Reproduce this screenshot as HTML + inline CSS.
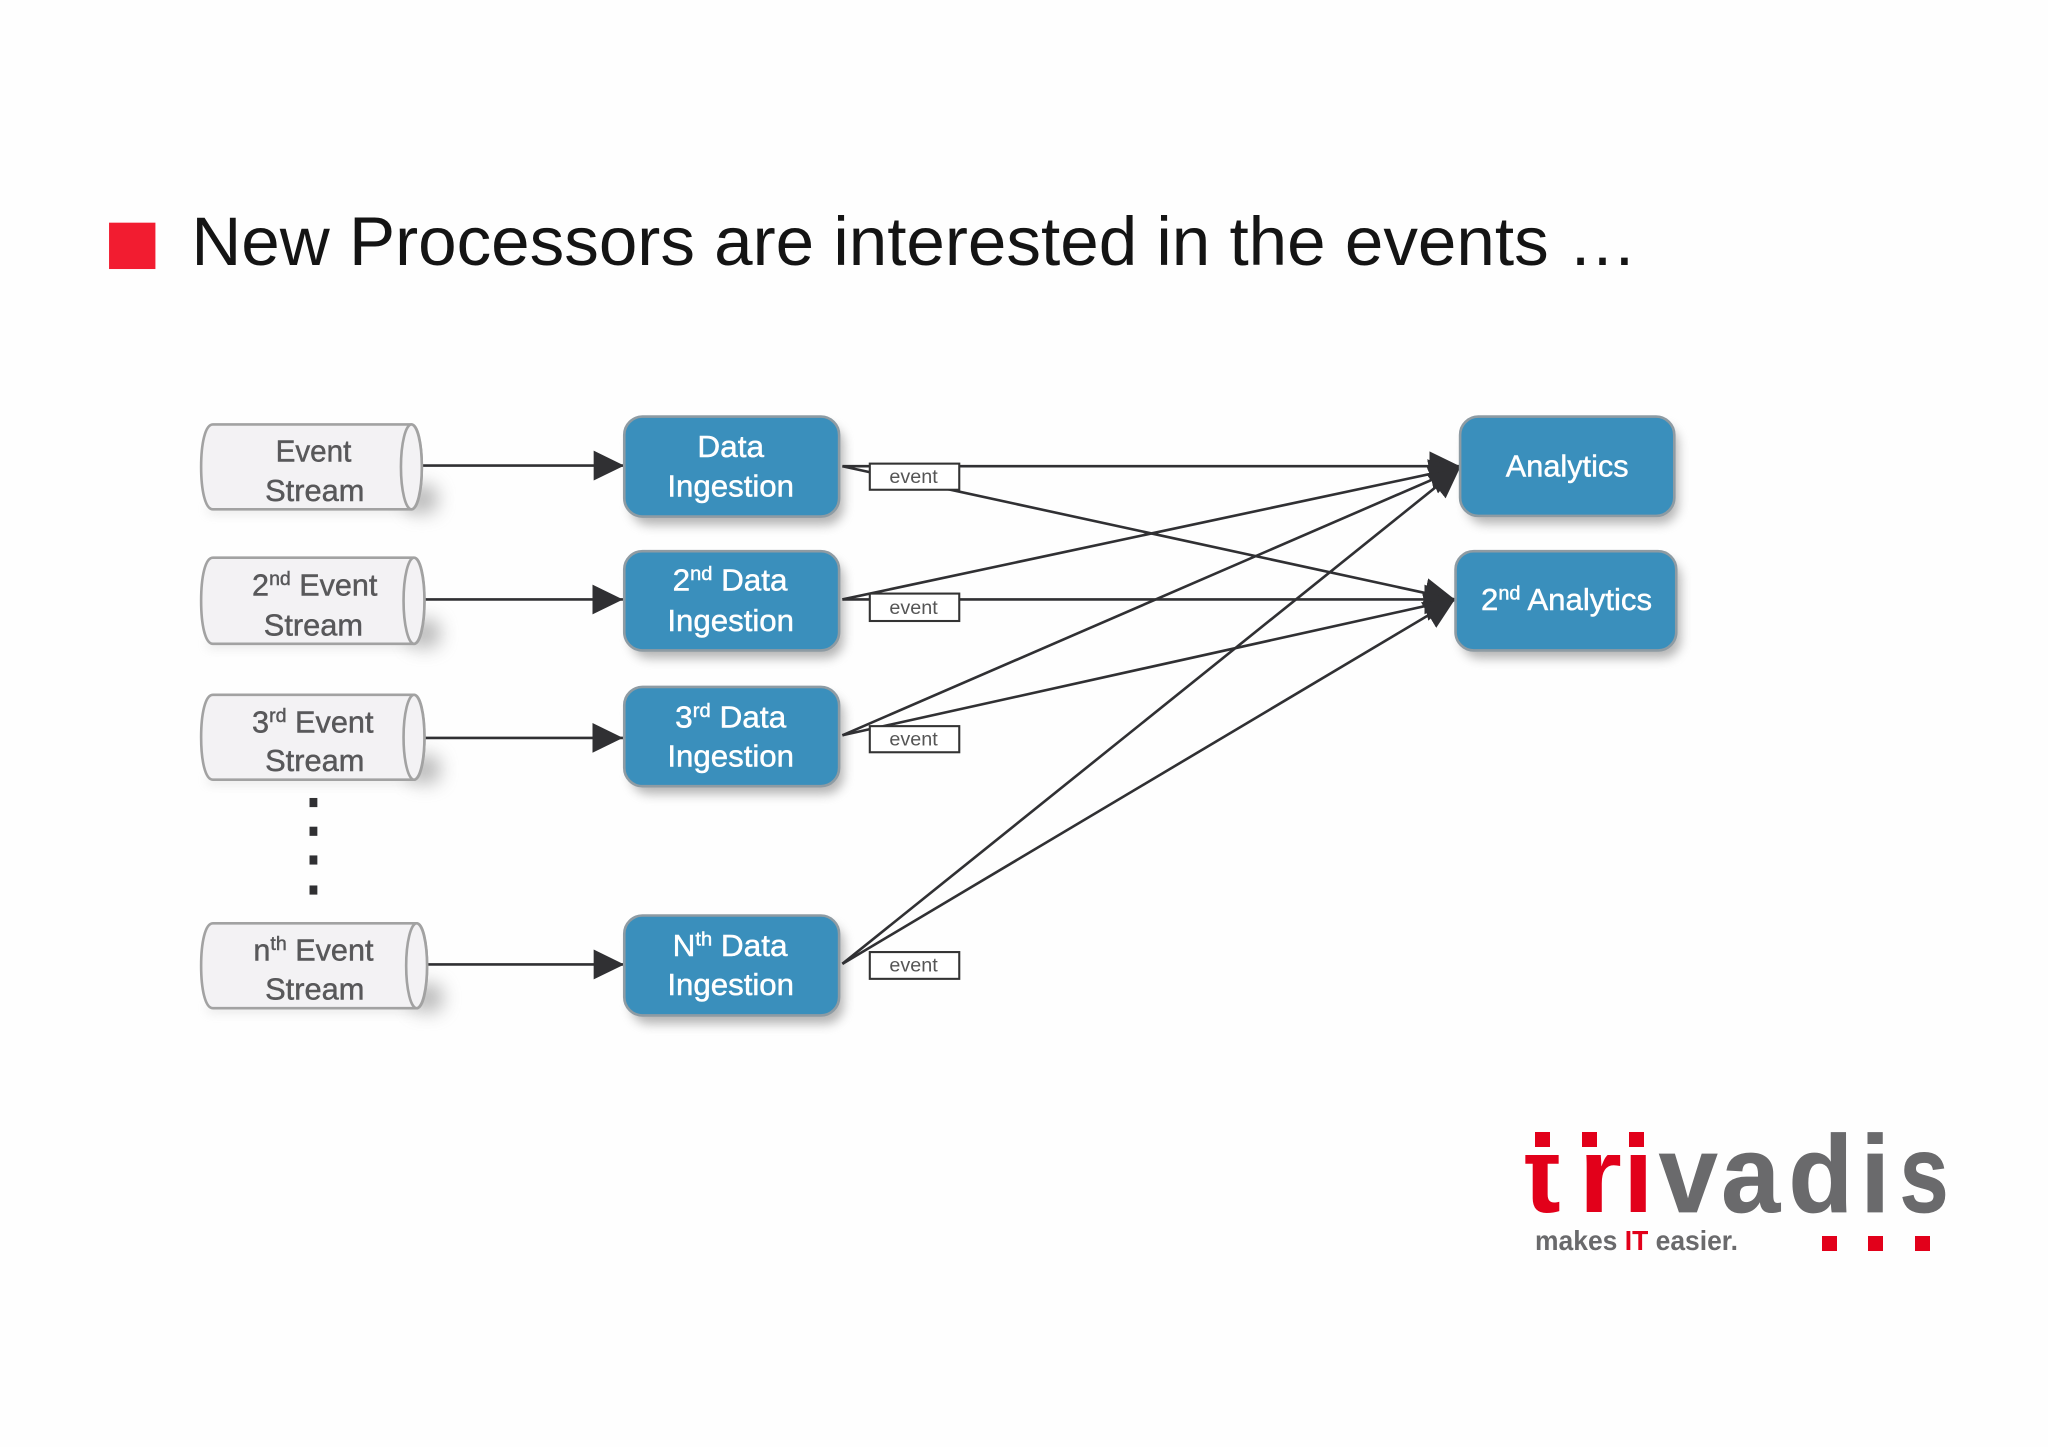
<!DOCTYPE html>
<html><head><meta charset="utf-8"><style>
html,body{margin:0;padding:0;background:#fefefe}
svg{display:block}
text{font-family:"Liberation Sans",sans-serif}
.c{fill:#58585a;font-size:23.5px;stroke:#58585a;stroke-width:.35}
.b{fill:#fff;font-size:23.5px;stroke:#fff;stroke-width:.35}
.e{fill:#555;font-size:14.5px}
.l{stroke:#303033;stroke-width:2;fill:none}
.box{fill:#3a8fbc;stroke:#8e9ba3;stroke-width:2}
.cyl{fill:#f3f2f4;stroke:#a2a2a2;stroke-width:2}
.lab{fill:#fff;stroke:#333;stroke-width:1.6}
</style></head><body>
<svg xmlns="http://www.w3.org/2000/svg" width="2048" height="1447" viewBox="0 0 2048 1447">
<defs>
<filter id="s" x="-20%" y="-30%" width="140%" height="170%"><feGaussianBlur stdDeviation="4"/></filter>
<filter id="s2" x="-100%" y="-100%" width="300%" height="300%"><feGaussianBlur stdDeviation="7"/></filter>
<marker id="a" markerUnits="userSpaceOnUse" markerWidth="24" markerHeight="24" viewBox="0 0 21 21" refX="20.5" refY="10.5" orient="auto"><path d="M0 .5L20.5 10.5L0 20.5Z" fill="#303033"/></marker>
</defs>
<rect width="2048" height="1447" fill="#fefefe"/>
<g transform="scale(1.306)">
<rect x="83.500" y="170.500" width="35.500" height="35.500" fill="#f21c30"/>
<text x="146.500" y="203" font-size="52.500" fill="#141414" textLength="1107" lengthAdjust="spacingAndGlyphs">New Processors are interested in the events …</text>

<!-- shadows -->
<g fill="#777" opacity=".55" filter="url(#s)">
<rect x="483" y="326" width="163" height="76" rx="14"/><rect x="483" y="429" width="163" height="75" rx="14"/><rect x="483" y="533" width="163" height="75" rx="14"/><rect x="483" y="708" width="163" height="76" rx="14"/>
<rect x="1123" y="326" width="162" height="75" rx="14"/><rect x="1119" y="429" width="168" height="75" rx="14"/>
</g>
<g fill="#777" opacity=".5" filter="url(#s2)">
<rect x="311" y="371" width="24" height="22" rx="8"/><rect x="313" y="474" width="24" height="22" rx="8"/><rect x="313" y="578" width="24" height="22" rx="8"/><rect x="315" y="753" width="24" height="22" rx="8"/>
</g>
<g fill="#999" opacity=".25" filter="url(#s)">
<rect x="159" y="387" width="160" height="6"/><rect x="159" y="490" width="160" height="6"/><rect x="159" y="594" width="160" height="6"/><rect x="159" y="769" width="160" height="6"/>
</g>

<!-- connectors -->
<g class="l">
<line x1="323" y1="356.500" x2="478" y2="356.500" marker-end="url(#a)"/>
<line x1="325" y1="459" x2="477" y2="459" marker-end="url(#a)"/>
<line x1="325" y1="565" x2="477" y2="565" marker-end="url(#a)"/>
<line x1="327" y1="738.500" x2="478" y2="738.500" marker-end="url(#a)"/>
<line x1="645" y1="357" x2="1118" y2="357" marker-end="url(#a)"/>
<line x1="645" y1="357" x2="1114" y2="459" marker-end="url(#a)"/>
<line x1="645" y1="459" x2="1118" y2="358" marker-end="url(#a)"/>
<line x1="645" y1="459" x2="1114" y2="459" marker-end="url(#a)"/>
<line x1="645" y1="563" x2="1118" y2="358" marker-end="url(#a)"/>
<line x1="645" y1="563" x2="1114" y2="459" marker-end="url(#a)"/>
<line x1="645" y1="738" x2="1118" y2="358" marker-end="url(#a)"/>
<line x1="645" y1="738" x2="1114" y2="459" marker-end="url(#a)"/>
</g>

<!-- cylinders -->
<path class="cyl" d="M163 325H315C320 325 323 340 323 357.500S320 390 315 390H163C157 390 154 375 154 357.500S157 325 163 325Z"/>
<ellipse class="cyl" cx="315" cy="357.500" rx="8" ry="32.500"/>
<path class="cyl" d="M163 427H317C322 427 325 442 325 460S322 493 317 493H163C157 493 154 478 154 460S157 427 163 427Z"/>
<ellipse class="cyl" cx="317" cy="460" rx="8" ry="33"/>
<path class="cyl" d="M163 532H317C322 532 325 547 325 564.500S322 597 317 597H163C157 597 154 582 154 564.500S157 532 163 532Z"/>
<ellipse class="cyl" cx="317" cy="564.500" rx="8" ry="32.500"/>
<path class="cyl" d="M163 707H319C324 707 327 722 327 739.500S324 772 319 772H163C157 772 154 757 154 739.500S157 707 163 707Z"/>
<ellipse class="cyl" cx="319" cy="739.500" rx="8" ry="32.500"/>

<text class="c" x="211" y="353.500" textLength="58" lengthAdjust="spacingAndGlyphs">Event</text>
<text class="c" x="203" y="383.500" textLength="76" lengthAdjust="spacingAndGlyphs">Stream</text>
<text class="c" x="193" y="456" textLength="96" lengthAdjust="spacingAndGlyphs">2<tspan font-size="15" dy="-8">nd</tspan><tspan dy="8"> Event</tspan></text>
<text class="c" x="202" y="486.500" textLength="76" lengthAdjust="spacingAndGlyphs">Stream</text>
<text class="c" x="193" y="561" textLength="93" lengthAdjust="spacingAndGlyphs">3<tspan font-size="15" dy="-8">rd</tspan><tspan dy="8"> Event</tspan></text>
<text class="c" x="203" y="590.500" textLength="76" lengthAdjust="spacingAndGlyphs">Stream</text>
<text class="c" x="194" y="735.500" textLength="92" lengthAdjust="spacingAndGlyphs">n<tspan font-size="15" dy="-8">th</tspan><tspan dy="8"> Event</tspan></text>
<text class="c" x="203" y="765.500" textLength="76" lengthAdjust="spacingAndGlyphs">Stream</text>

<g fill="#303033"><rect x="237" y="611" width="6" height="7"/><rect x="237" y="633" width="6" height="7"/><rect x="237" y="655" width="6" height="7"/><rect x="237" y="678" width="6" height="7"/></g>

<!-- boxes -->
<rect class="box" x="478" y="319" width="164.500" height="76.500" rx="14"/>
<rect class="box" x="478" y="422" width="164.500" height="76" rx="14"/>
<rect class="box" x="478" y="526" width="164.500" height="76" rx="14"/>
<rect class="box" x="478" y="701" width="164.500" height="76.500" rx="14"/>
<rect class="box" x="1118" y="319" width="164" height="76" rx="14"/>
<rect class="box" x="1114.500" y="422" width="169" height="76" rx="14"/>

<text class="b" x="534" y="350" textLength="51" lengthAdjust="spacingAndGlyphs">Data</text>
<text class="b" x="511" y="380" textLength="97" lengthAdjust="spacingAndGlyphs">Ingestion</text>
<text class="b" x="515" y="452" textLength="88" lengthAdjust="spacingAndGlyphs">2<tspan font-size="15" dy="-8">nd</tspan><tspan dy="8"> Data</tspan></text>
<text class="b" x="511" y="483" textLength="97" lengthAdjust="spacingAndGlyphs">Ingestion</text>
<text class="b" x="517" y="557" textLength="85" lengthAdjust="spacingAndGlyphs">3<tspan font-size="15" dy="-8">rd</tspan><tspan dy="8"> Data</tspan></text>
<text class="b" x="511" y="587" textLength="97" lengthAdjust="spacingAndGlyphs">Ingestion</text>
<text class="b" x="515" y="732" textLength="88" lengthAdjust="spacingAndGlyphs">N<tspan font-size="15" dy="-8">th</tspan><tspan dy="8"> Data</tspan></text>
<text class="b" x="511" y="762" textLength="97" lengthAdjust="spacingAndGlyphs">Ingestion</text>
<text class="b" x="1153" y="365" textLength="94" lengthAdjust="spacingAndGlyphs">Analytics</text>
<text class="b" x="1134" y="467" textLength="131" lengthAdjust="spacingAndGlyphs">2<tspan font-size="15" dy="-8">nd</tspan><tspan dy="8"> Analytics</tspan></text>

<!-- event labels -->
<rect class="lab" x="666" y="355" width="68.500" height="20"/><text class="e" x="681" y="370" textLength="37" lengthAdjust="spacingAndGlyphs">event</text>
<rect class="lab" x="666" y="454.500" width="68.500" height="21"/><text class="e" x="681" y="470" textLength="37" lengthAdjust="spacingAndGlyphs">event</text>
<rect class="lab" x="666" y="556" width="68.500" height="20"/><text class="e" x="681" y="571" textLength="37" lengthAdjust="spacingAndGlyphs">event</text>
<rect class="lab" x="666" y="729" width="68.500" height="20.500"/><text class="e" x="681" y="744" textLength="37" lengthAdjust="spacingAndGlyphs">event</text>
</g>

<!-- logo -->
<text x="1524 1579 1623" y="1212" font-size="110" font-weight="bold" fill="#e2001a">tri</text>
<text transform="scale(.96 1)" x="1728 1793 1863 1938" y="1212" font-size="110" font-weight="bold" fill="#6a6a6c" stroke="#6a6a6c" stroke-width=".8">vadi</text>
<text transform="scale(.8 1)" x="2374.500" y="1212" font-size="110" font-weight="bold" fill="#6a6a6c" stroke="#6a6a6c" stroke-width=".8">s</text>
<rect x="1518" y="1120" width="135" height="35" fill="#fefefe"/>
<g fill="#e2001a"><rect x="1535" y="1132" width="15" height="15"/><rect x="1582" y="1132" width="15" height="15"/><rect x="1629" y="1132" width="15" height="15"/>
<rect x="1822" y="1236" width="15" height="15"/><rect x="1868" y="1236" width="15" height="15"/><rect x="1915" y="1236" width="15" height="15"/></g>
<text x="1535" y="1250" font-size="28" font-weight="bold" fill="#6a6a6c" textLength="203" lengthAdjust="spacingAndGlyphs">makes <tspan fill="#e2001a">IT</tspan> easier.</text>
</svg>
</body></html>
